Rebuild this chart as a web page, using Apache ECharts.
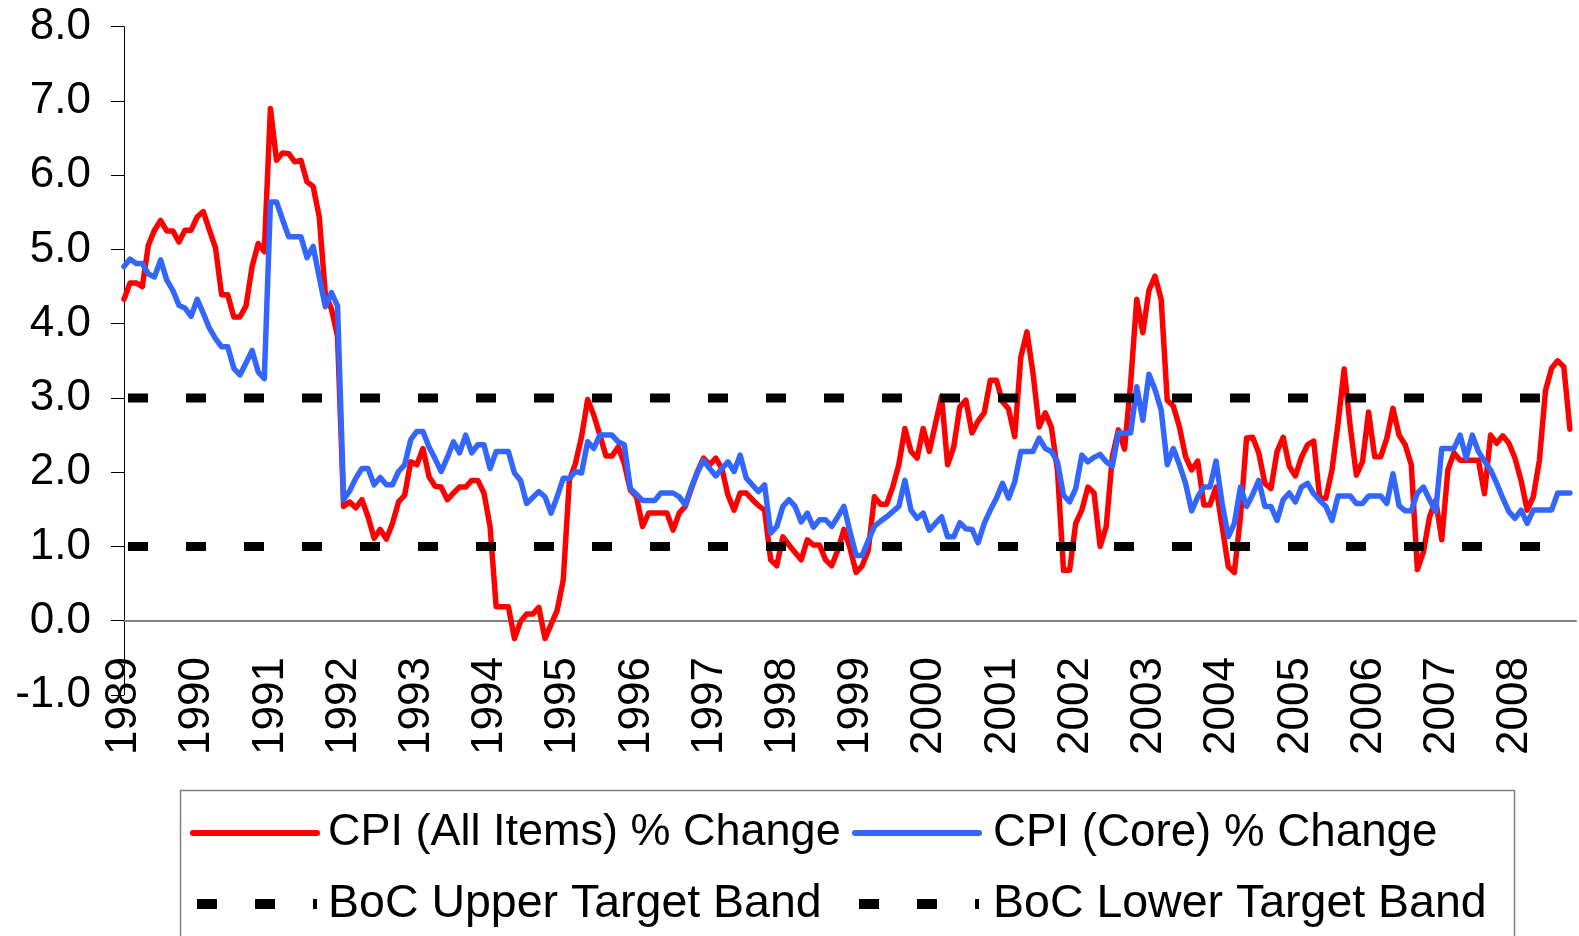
<!DOCTYPE html>
<html>
<head>
<meta charset="utf-8">
<script src="https://cdn.jsdelivr.net/npm/echarts@6/dist/echarts.min.js"></script>
<style>
html,body{margin:0;padding:0;background:#ffffff;}
#chart{width:1579px;height:936px;}
</style>
</head>
<body>
<div id="chart"></div>
<script>
// ---- Data (monthly, year-over-year % change) ----
const years = ['1989','1990','1991','1992','1993','1994','1995','1996','1997','1998',
               '1999','2000','2001','2002','2003','2004','2005','2006','2007','2008'];

// CPI (All Items) % Change, Jan 1989 - Oct 2008
const cpiAllItems = [
  4.33, 4.55, 4.55, 4.50, 5.06, 5.26, 5.39, 5.25, 5.25, 5.10, 5.26, 5.26, // 1989
  5.44, 5.51, 5.26, 5.02, 4.39, 4.39, 4.09, 4.09, 4.24, 4.77, 5.08, 4.97, // 1990
  6.90, 6.20, 6.30, 6.29, 6.18, 6.20, 5.91, 5.85, 5.44, 4.40, 4.20, 3.83, // 1991
  1.54, 1.60, 1.52, 1.63, 1.40, 1.11, 1.23, 1.10, 1.31, 1.60, 1.69, 2.14, // 1992
  2.10, 2.32, 1.94, 1.81, 1.80, 1.63, 1.72, 1.80, 1.80, 1.89, 1.89, 1.72, // 1993
  1.27, 0.19, 0.19, 0.19, -0.24, -0.01, 0.09, 0.09, 0.18, -0.24, -0.05, 0.14, // 1994
  0.55, 1.89, 2.12, 2.48, 2.98, 2.77, 2.50, 2.22, 2.22, 2.34, 2.12, 1.76, // 1995
  1.67, 1.27, 1.45, 1.45, 1.45, 1.45, 1.22, 1.45, 1.54, 1.78, 2.01, 2.19, // 1996
  2.10, 2.19, 2.05, 1.69, 1.49, 1.72, 1.72, 1.63, 1.55, 1.49, 0.82, 0.74, // 1997
  1.13, 1.02, 0.92, 0.82, 1.09, 1.02, 1.02, 0.82, 0.74, 0.95, 1.23, 0.98, // 1998
  0.65, 0.74, 0.95, 1.67, 1.57, 1.57, 1.80, 2.10, 2.59, 2.28, 2.19, 2.59, // 1999
  2.28, 2.65, 3.02, 2.10, 2.34, 2.88, 2.97, 2.53, 2.69, 2.80, 3.24, 3.24, // 2000
  2.95, 2.85, 2.48, 3.55, 3.89, 3.33, 2.61, 2.80, 2.61, 2.03, 0.68, 0.68, // 2001
  1.31, 1.49, 1.80, 1.72, 1.00, 1.27, 2.21, 2.57, 2.31, 3.20, 4.33, 3.88, // 2002
  4.45, 4.64, 4.33, 2.97, 2.89, 2.61, 2.21, 2.03, 2.15, 1.56, 1.56, 1.80, // 2003
  1.27, 0.73, 0.65, 1.40, 2.46, 2.47, 2.26, 1.85, 1.78, 2.28, 2.47, 2.08, // 2004
  1.95, 2.20, 2.37, 2.42, 1.65, 1.65, 2.03, 2.66, 3.39, 2.61, 1.96, 2.14, // 2005
  2.81, 2.21, 2.21, 2.46, 2.86, 2.50, 2.37, 2.10, 0.69, 0.93, 1.40, 1.62, // 2006
  1.09, 2.03, 2.26, 2.16, 2.16, 2.16, 2.16, 1.71, 2.50, 2.39, 2.49, 2.39, // 2007
  2.19, 1.89, 1.49, 1.67, 2.16, 3.10, 3.40, 3.50, 3.42, 2.58              // 2008
];

// CPI (Core) % Change, Jan 1989 - Oct 2008
const cpiCore = [
  4.77, 4.87, 4.81, 4.81, 4.67, 4.63, 4.86, 4.59, 4.45, 4.25, 4.21, 4.10, // 1989
  4.33, 4.14, 3.94, 3.80, 3.69, 3.69, 3.40, 3.31, 3.47, 3.64, 3.35, 3.26, // 1990
  5.64, 5.64, 5.40, 5.17, 5.17, 5.17, 4.89, 5.04, 4.63, 4.23, 4.42, 4.24, // 1991
  1.63, 1.75, 1.92, 2.05, 2.05, 1.83, 1.93, 1.83, 1.83, 2.01, 2.10, 2.44, // 1992
  2.55, 2.55, 2.34, 2.18, 2.01, 2.20, 2.41, 2.26, 2.50, 2.26, 2.37, 2.37, // 1993
  2.05, 2.28, 2.28, 2.28, 1.99, 1.89, 1.58, 1.66, 1.74, 1.67, 1.45, 1.67, // 1994
  1.92, 1.92, 2.01, 1.99, 2.41, 2.32, 2.50, 2.50, 2.50, 2.41, 2.37, 1.78, // 1995
  1.70, 1.62, 1.62, 1.62, 1.72, 1.72, 1.72, 1.67, 1.56, 1.80, 2.00, 2.16, // 1996
  2.05, 1.95, 2.05, 2.14, 2.01, 2.23, 1.92, 1.83, 1.74, 1.83, 1.18, 1.27, // 1997
  1.54, 1.63, 1.54, 1.33, 1.45, 1.26, 1.36, 1.36, 1.27, 1.40, 1.54, 1.20, // 1998
  0.88, 0.88, 1.08, 1.27, 1.34, 1.40, 1.47, 1.54, 1.89, 1.49, 1.38, 1.45, // 1999
  1.22, 1.31, 1.40, 1.13, 1.13, 1.32, 1.24, 1.23, 1.05, 1.31, 1.49, 1.65, // 2000
  1.85, 1.65, 1.87, 2.28, 2.28, 2.28, 2.46, 2.32, 2.28, 2.14, 1.69, 1.60, // 2001
  1.78, 2.23, 2.14, 2.20, 2.24, 2.14, 2.08, 2.53, 2.53, 2.53, 3.15, 2.70, // 2002
  3.32, 3.11, 2.84, 2.10, 2.32, 2.10, 1.85, 1.48, 1.67, 1.80, 1.80, 2.15, // 2003
  1.58, 1.13, 1.31, 1.80, 1.54, 1.70, 1.89, 1.54, 1.54, 1.35, 1.63, 1.72, // 2004
  1.60, 1.80, 1.85, 1.71, 1.62, 1.54, 1.35, 1.68, 1.68, 1.68, 1.58, 1.58, // 2005
  1.68, 1.68, 1.68, 1.58, 1.98, 1.55, 1.48, 1.48, 1.72, 1.80, 1.63, 1.47, // 2006
  2.32, 2.32, 2.32, 2.50, 2.19, 2.50, 2.28, 2.15, 2.03, 1.85, 1.65, 1.47, // 2007
  1.38, 1.49, 1.31, 1.49, 1.49, 1.49, 1.49, 1.72, 1.72, 1.72              // 2008
];

// Bank of Canada inflation-control target band
const upperBand = 3.0;
const lowerBand = 1.0;

const seriesNames = ['CPI (All Items) % Change', 'CPI (Core) % Change',
                     'BoC Upper Target Band', 'BoC Lower Target Band'];

// ---- Categories (one per month; axis runs one slot past the last observation) ----
const months = [];
years.forEach(function (y) {
  for (let m = 1; m <= 12; m++) months.push(y + '-' + String(m).padStart(2, '0'));
});
const nObs = cpiAllItems.length;
const categories = months.slice(0, nObs + 1);
const firstCat = categories[0];
const lastObsCat = categories[nObs - 1];

const FONT = '"Liberation Sans", Arial, Helvetica, sans-serif';

const chart = echarts.init(document.getElementById('chart'), null, { renderer: 'canvas' });

const hiddenSymbol = { color: 'rgba(0,0,0,0)', borderWidth: 0, opacity: 0 };

function legendBlock(left, padLeft, items) {
  return {
    left: left,
    top: 808,
    orient: 'vertical',
    padding: 0,
    itemWidth: 124,
    itemHeight: 14,
    itemGap: 21,
    selectedMode: false,
    textStyle: { fontFamily: FONT, fontSize: 45, color: '#000', lineHeight: 50, padding: [0, 0, 0, padLeft] },
    data: items
  };
}

chart.setOption({
  animation: false,
  backgroundColor: '#ffffff',
  grid: { left: 124, right: 3, top: 26.7, bottom: 241, containLabel: false },
  xAxis: {
    type: 'category',
    data: categories,
    boundaryGap: false,
    axisLine: { onZero: true, lineStyle: { color: '#808080', width: 2 } },
    axisTick: { show: false },
    axisLabel: {
      interval: 11,
      rotate: 90,
      margin: -38,
      fontFamily: FONT,
      fontSize: 44,
      color: '#000',
      formatter: function (v) { return v.slice(0, 4); }
    },
    splitLine: { show: false }
  },
  yAxis: {
    type: 'value',
    min: -1,
    max: 8,
    interval: 1,
    axisLine: { show: true, lineStyle: { color: '#000', width: 1 } },
    axisTick: { show: true, inside: false, length: 13, lineStyle: { color: '#000', width: 1 } },
    axisLabel: {
      margin: 33,
      fontFamily: FONT,
      fontSize: 44,
      color: '#000',
      formatter: function (v) { return v.toFixed(1); }
    },
    splitLine: { show: false }
  },
  legend: [
    legendBlock(188, 6, [
      { name: seriesNames[0], itemStyle: hiddenSymbol, lineStyle: { width: 6, cap: 'round' } },
      { name: seriesNames[2], itemStyle: hiddenSymbol, lineStyle: { width: 10, type: [20, 38], cap: 'butt' },
        textStyle: { fontSize: 46.5 } }
    ]),
    legendBlock(850, 9, [
      { name: seriesNames[1], itemStyle: hiddenSymbol, lineStyle: { width: 6, cap: 'round' },
        textStyle: { fontSize: 45.7 } },
      { name: seriesNames[3], itemStyle: hiddenSymbol, lineStyle: { width: 10, type: [20, 38], cap: 'butt' },
        textStyle: { fontSize: 46.5 } }
    ])
  ],
  graphic: [
    {
      type: 'rect',
      left: 178,
      top: 788,
      shape: { x: 0, y: 0, width: 1334, height: 200 },
      style: { fill: 'none', stroke: '#808080', lineWidth: 1.5 },
      z: -1
    }
  ],
  series: [
    {
      name: seriesNames[0],
      type: 'line',
      data: cpiAllItems,
      symbol: 'none',
      showSymbol: false,
      color: '#FF0000',
      lineStyle: { color: '#FF0000', width: 5.5, join: 'round', cap: 'round' },
      emphasis: { disabled: true },
      z: 2
    },
    {
      name: seriesNames[1],
      type: 'line',
      data: cpiCore,
      symbol: 'none',
      showSymbol: false,
      color: '#3366FF',
      lineStyle: { color: '#3366FF', width: 5.5, join: 'round', cap: 'round' },
      emphasis: { disabled: true },
      z: 3
    },
    {
      name: seriesNames[2],
      type: 'line',
      data: [[firstCat, upperBand], [lastObsCat, upperBand]],
      symbol: 'none',
      showSymbol: false,
      color: '#000000',
      lineStyle: { color: '#000000', width: 9, type: [20, 38], dashOffset: -4, cap: 'butt' },
      emphasis: { disabled: true },
      z: 4
    },
    {
      name: seriesNames[3],
      type: 'line',
      data: [[firstCat, lowerBand], [lastObsCat, lowerBand]],
      symbol: 'none',
      showSymbol: false,
      color: '#000000',
      lineStyle: { color: '#000000', width: 9, type: [20, 38], dashOffset: -4, cap: 'butt' },
      emphasis: { disabled: true },
      z: 4
    }
  ]
});
</script>
</body>
</html>
